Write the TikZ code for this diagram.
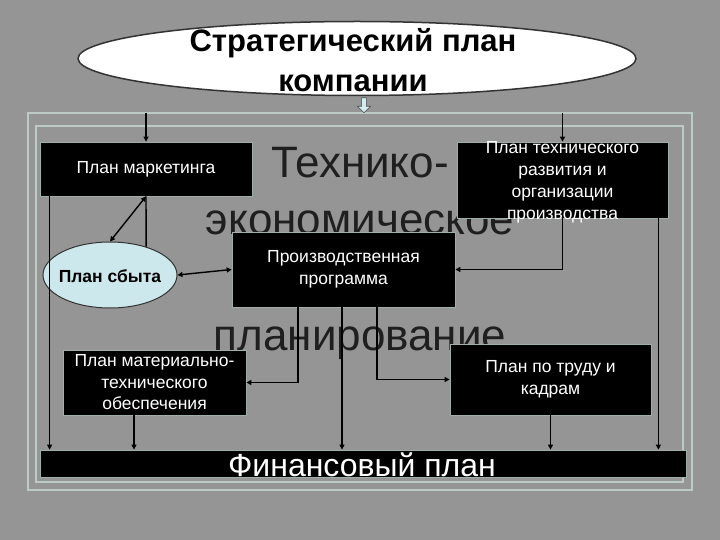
\documentclass[tikz,border=0pt]{standalone}
\usepackage{fontspec}
\setmainfont{Liberation Sans}
\usetikzlibrary{shapes.geometric,shapes.arrows,arrows.meta}
\definecolor{bg}{HTML}{959595}
\definecolor{framec}{HTML}{BCCBC4}
\definecolor{edgec}{HTML}{9DAFA7}
\definecolor{sbytc}{HTML}{CDE8EC}
\definecolor{arrc}{HTML}{D2ECF0}
\begin{document}
\begin{tikzpicture}[x=1pt,y=-1pt,
  blackbox/.style={draw=edgec, line width=0.8pt, fill=black, text=white, align=center,
    font=\fontsize{17.5}{21.5}\selectfont, inner sep=0pt},
  boxtext/.style={text=white, align=center, font=\fontsize{17.5}{22}\selectfont, inner sep=0pt},
  conn/.style={line width=1.4pt, black},
  arr/.style={conn, -{Triangle[width=5pt,length=5pt]}},
  darr/.style={conn, {Triangle[width=5pt,length=5pt]}-{Triangle[width=5pt,length=5pt]}},
  bigtext/.style={font=\fontsize{44}{44}\selectfont, text=black!88, inner sep=0pt, anchor=base}]
\fill[bg] (0,0) rectangle (720,540);
\useasboundingbox (0,0) rectangle (720,540);

% frame
\draw[framec, line width=1.2pt] (28,113) rectangle (692,490);
\draw[framec, line width=1.2pt] (36,126) rectangle (683,482);

% background heading
\node[bigtext] (t1) at (360,178) {Технико-};
\node[bigtext] (t2) at (360,235) {экономическое};
\node[bigtext] (t3) at (360,350) {планирование};

% strategic plan
\node[ellipse, draw=black!80, line width=1.5pt, fill=white, minimum width=558pt,
  minimum height=74pt, inner sep=0pt] (strat) at (357,58.5) {};
\node[align=center, inner sep=0pt, font=\bfseries\fontsize{31}{40}\selectfont] (strattxt) at (353,60)
  {Стратегический план\\компании};
\node[single arrow, draw=gray!60!black, fill=arrc, line width=0.6pt, minimum height=15pt,
  minimum width=13pt, single arrow head extend=3pt, shape border rotate=270,
  inner sep=1.5pt] (sarr) at (364,104) {};

% boxes
\node[blackbox, minimum width=212pt, minimum height=54pt] (mkt) at (146,169) {План маркетинга};
\node[blackbox, minimum width=211pt, minimum height=76pt] (tech) at (562.5,180) {};
\node[boxtext] (techtxt) at (562.5,182) {План технического\\развития и\\организации\\производства};
\node[blackbox, minimum width=223pt, minimum height=75pt] (prod) at (343.5,269.5) {Производственная\\программа};
\node[ellipse, draw=black!80, line width=1pt, fill=sbytc, minimum width=134pt,
  minimum height=66pt, inner sep=0pt] (sbyt) at (110,275) {};
\node[inner sep=0pt, font=\bfseries\fontsize{17.5}{20}\selectfont] (sbyttxt) at (110,276) {План сбыта};
\node[blackbox, minimum width=183pt, minimum height=65pt] (mat) at (154.5,382.5) {План материально-\\технического\\обеспечения};
\node[blackbox, minimum width=201pt, minimum height=71pt] (trud) at (550.5,379.5) {План по труду и\\кадрам};
\node[blackbox, minimum width=646pt, minimum height=27pt] (fin) at (363,463.5) {};
\node[text=white, font=\fontsize{32}{32}\selectfont, anchor=base, inner sep=0pt] (fintxt) at (362,476) {Финансовый план};

% connectors
\coordinate (in1) at (146,113);
\coordinate (in2) at (562.5,113);
\coordinate (lx) at ([xshift=10pt]mkt.south west);
\coordinate (rx) at ([xshift=-10pt]tech.south east);
\coordinate (p1) at ([xshift=-45.5pt]prod.south);
\coordinate (p2) at ([xshift=-1.5pt]prod.south);
\coordinate (p3) at ([xshift=33.5pt]prod.south);
\coordinate (m1) at ([xshift=-20.5pt]mat.south);

\draw[arr] (in1) -- (mkt.north);
\draw[arr] (in2) -- (tech.north);
\draw[darr] (mkt.south) -- (sbyt.north);
\draw[conn] (mkt.south) -- (sbyt.38);
\draw[darr] (sbyt.east) -- (prod.west);
\draw[arr] (lx) -- (lx |- fin.north);
\draw[arr] (tech.south) |- (prod.east);
\draw[arr] (rx) -- (rx |- fin.north);
\draw[arr] (p1) |- (mat.east);
\draw[arr] (p2) -- (p2 |- fin.north);
\draw[arr] (p3) |- (trud.west);
\draw[arr] (m1) -- (m1 |- fin.north);
\draw[arr] (trud.south) -- (trud.south |- fin.north);
\end{tikzpicture}
\end{document}
